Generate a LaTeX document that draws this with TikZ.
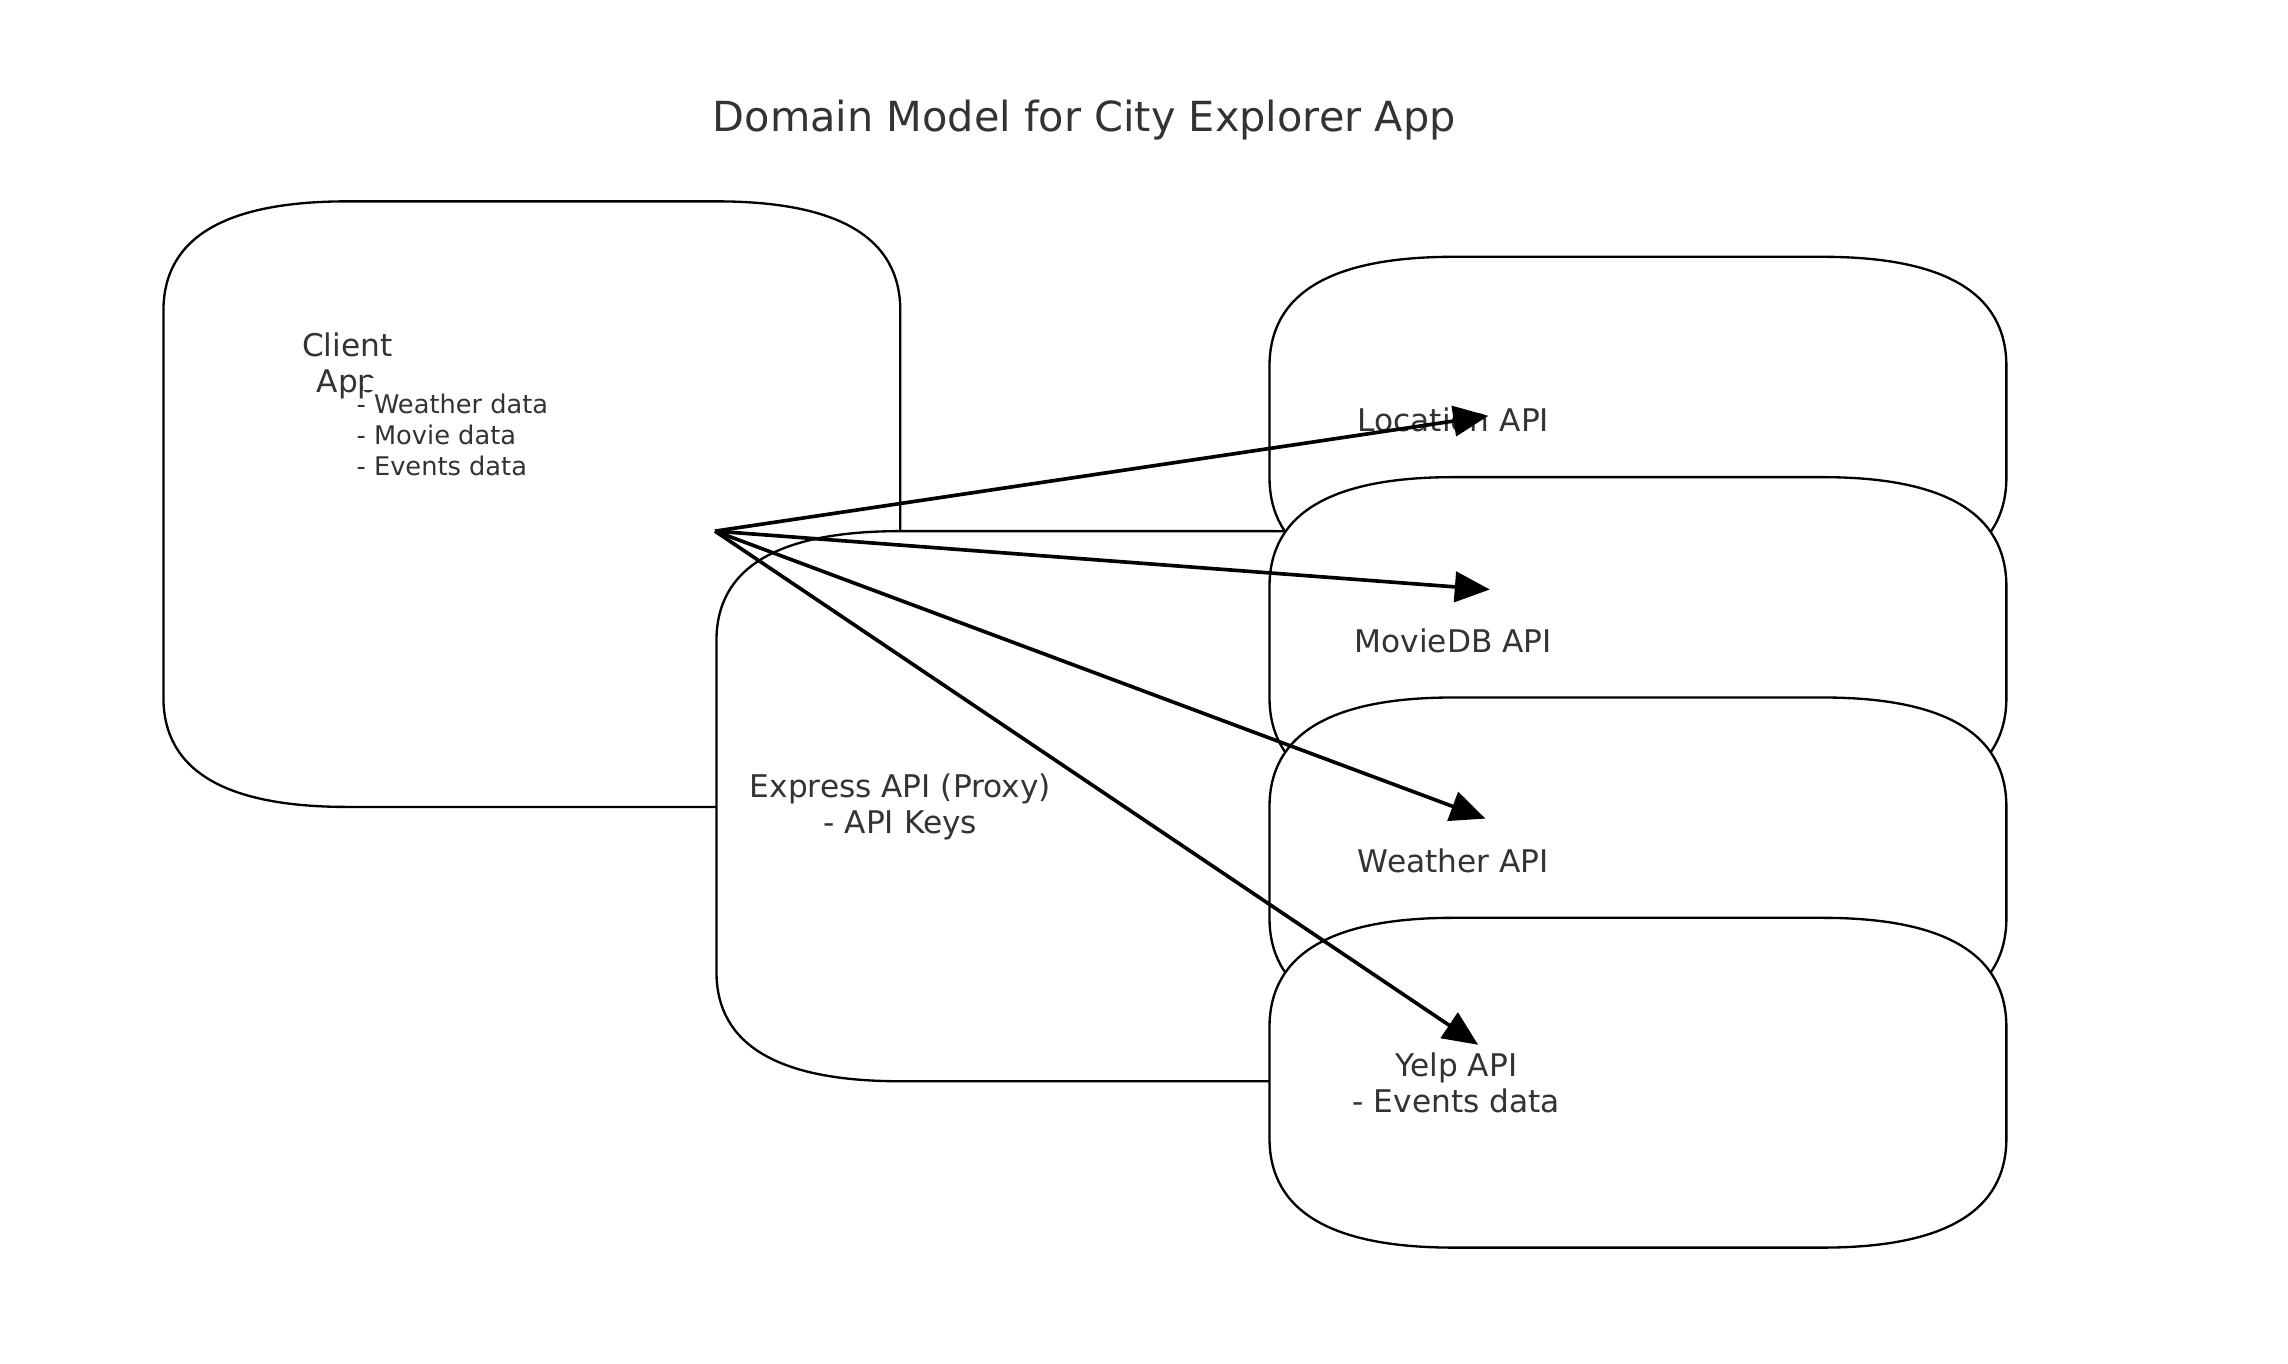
\documentclass[tikz,border=0pt]{standalone}
\usepackage{fontspec}
\setmainfont{DejaVu Sans}
\usetikzlibrary{arrows.meta}
\definecolor{txt}{HTML}{333333}
\tikzset{
  boxline/.style={draw=black, line width=0.8pt, fill=white},
  boxnode/.style={inner sep=0pt, outer sep=0pt},
  lbl/.style={text=txt, font=\fontsize{10.7}{12.3}\selectfont, align=center, inner sep=0pt},
  datatxt/.style={text=txt, font=\fontsize{8.8}{10.5}\selectfont, align=left, inner sep=1pt},
  titletxt/.style={text=txt, font=\fontsize{14.2}{17}\selectfont, inner sep=0pt},
  conn/.style={-{Triangle[length=12pt,width=10.4pt]}, line width=1.25pt, draw=black}
}
% name, x1, y1, x2, y2 (quadratic corners rx=126, ry=75)
\newcommand\ebox[5]{%
  \path[boxline] (#2+126,#3) -- (#4-126,#3)
    .. controls (#4-42,#3) and (#4,#3+25) .. (#4,#3+75)
    -- (#4,#5-75)
    .. controls (#4,#5-25) and (#4-42,#5) .. (#4-126,#5)
    -- (#2+126,#5)
    .. controls (#2+42,#5) and (#2,#5-25) .. (#2,#5-75)
    -- (#2,#3+75)
    .. controls (#2,#3+25) and (#2+42,#3) .. (#2+126,#3) -- cycle;
  \node[boxnode, minimum width={(#4-#2)*0.5pt}, minimum height={(#5-#3)*0.5pt}] (#1) at ({(#2+#4)/2},{(#3+#5)/2}) {};
}
\begin{document}
\begin{tikzpicture}[x=0.5pt, y=-0.5pt]
\useasboundingbox (0,0) rectangle (1568,934.7);
\node[titletxt] (title) at (743,82) {Domain Model for City Explorer App};

\ebox{client}{112}{138}{617}{553}
\node[lbl] (clientlbl) at (238,251) {Client\\ App};
\fill[white] (249,259) rectangle (322,267);
\node[datatxt, anchor=west] (clientdata) at (242,298) {- Weather data\\- Movie data\\- Events data};

\ebox{express}{491}{364}{996}{741}
\node[lbl] (expresslbl) at (617,553) {Express API (Proxy)\\- API Keys};

\ebox{location}{870}{176}{1375}{402}
\node[lbl] (locationlbl) at (996,288) {Location API};
\ebox{moviedb}{870}{327}{1375}{553}
\node[lbl] (moviedblbl) at (996,439) {MovieDB API};
\ebox{weather}{870}{478}{1375}{704}
\node[lbl] (weatherlbl) at (996,590) {Weather API};
\ebox{yelp}{870}{629}{1375}{855}
\node[lbl] (yelplbl) at (998,742) {Yelp API\\- Events data};

\coordinate (hub) at (490,364);
\coordinate (locTip) at (1020,285);
\coordinate (movTip) at (1021,404);
\coordinate (weaTip) at (1018,561);
\coordinate (yelTip) at (1013,716);
\draw[conn] (hub) -- (locTip);
\draw[conn] (hub) -- (movTip);
\draw[conn] (hub) -- (weaTip);
\draw[conn] (hub) -- (yelTip);
\end{tikzpicture}
\end{document}
